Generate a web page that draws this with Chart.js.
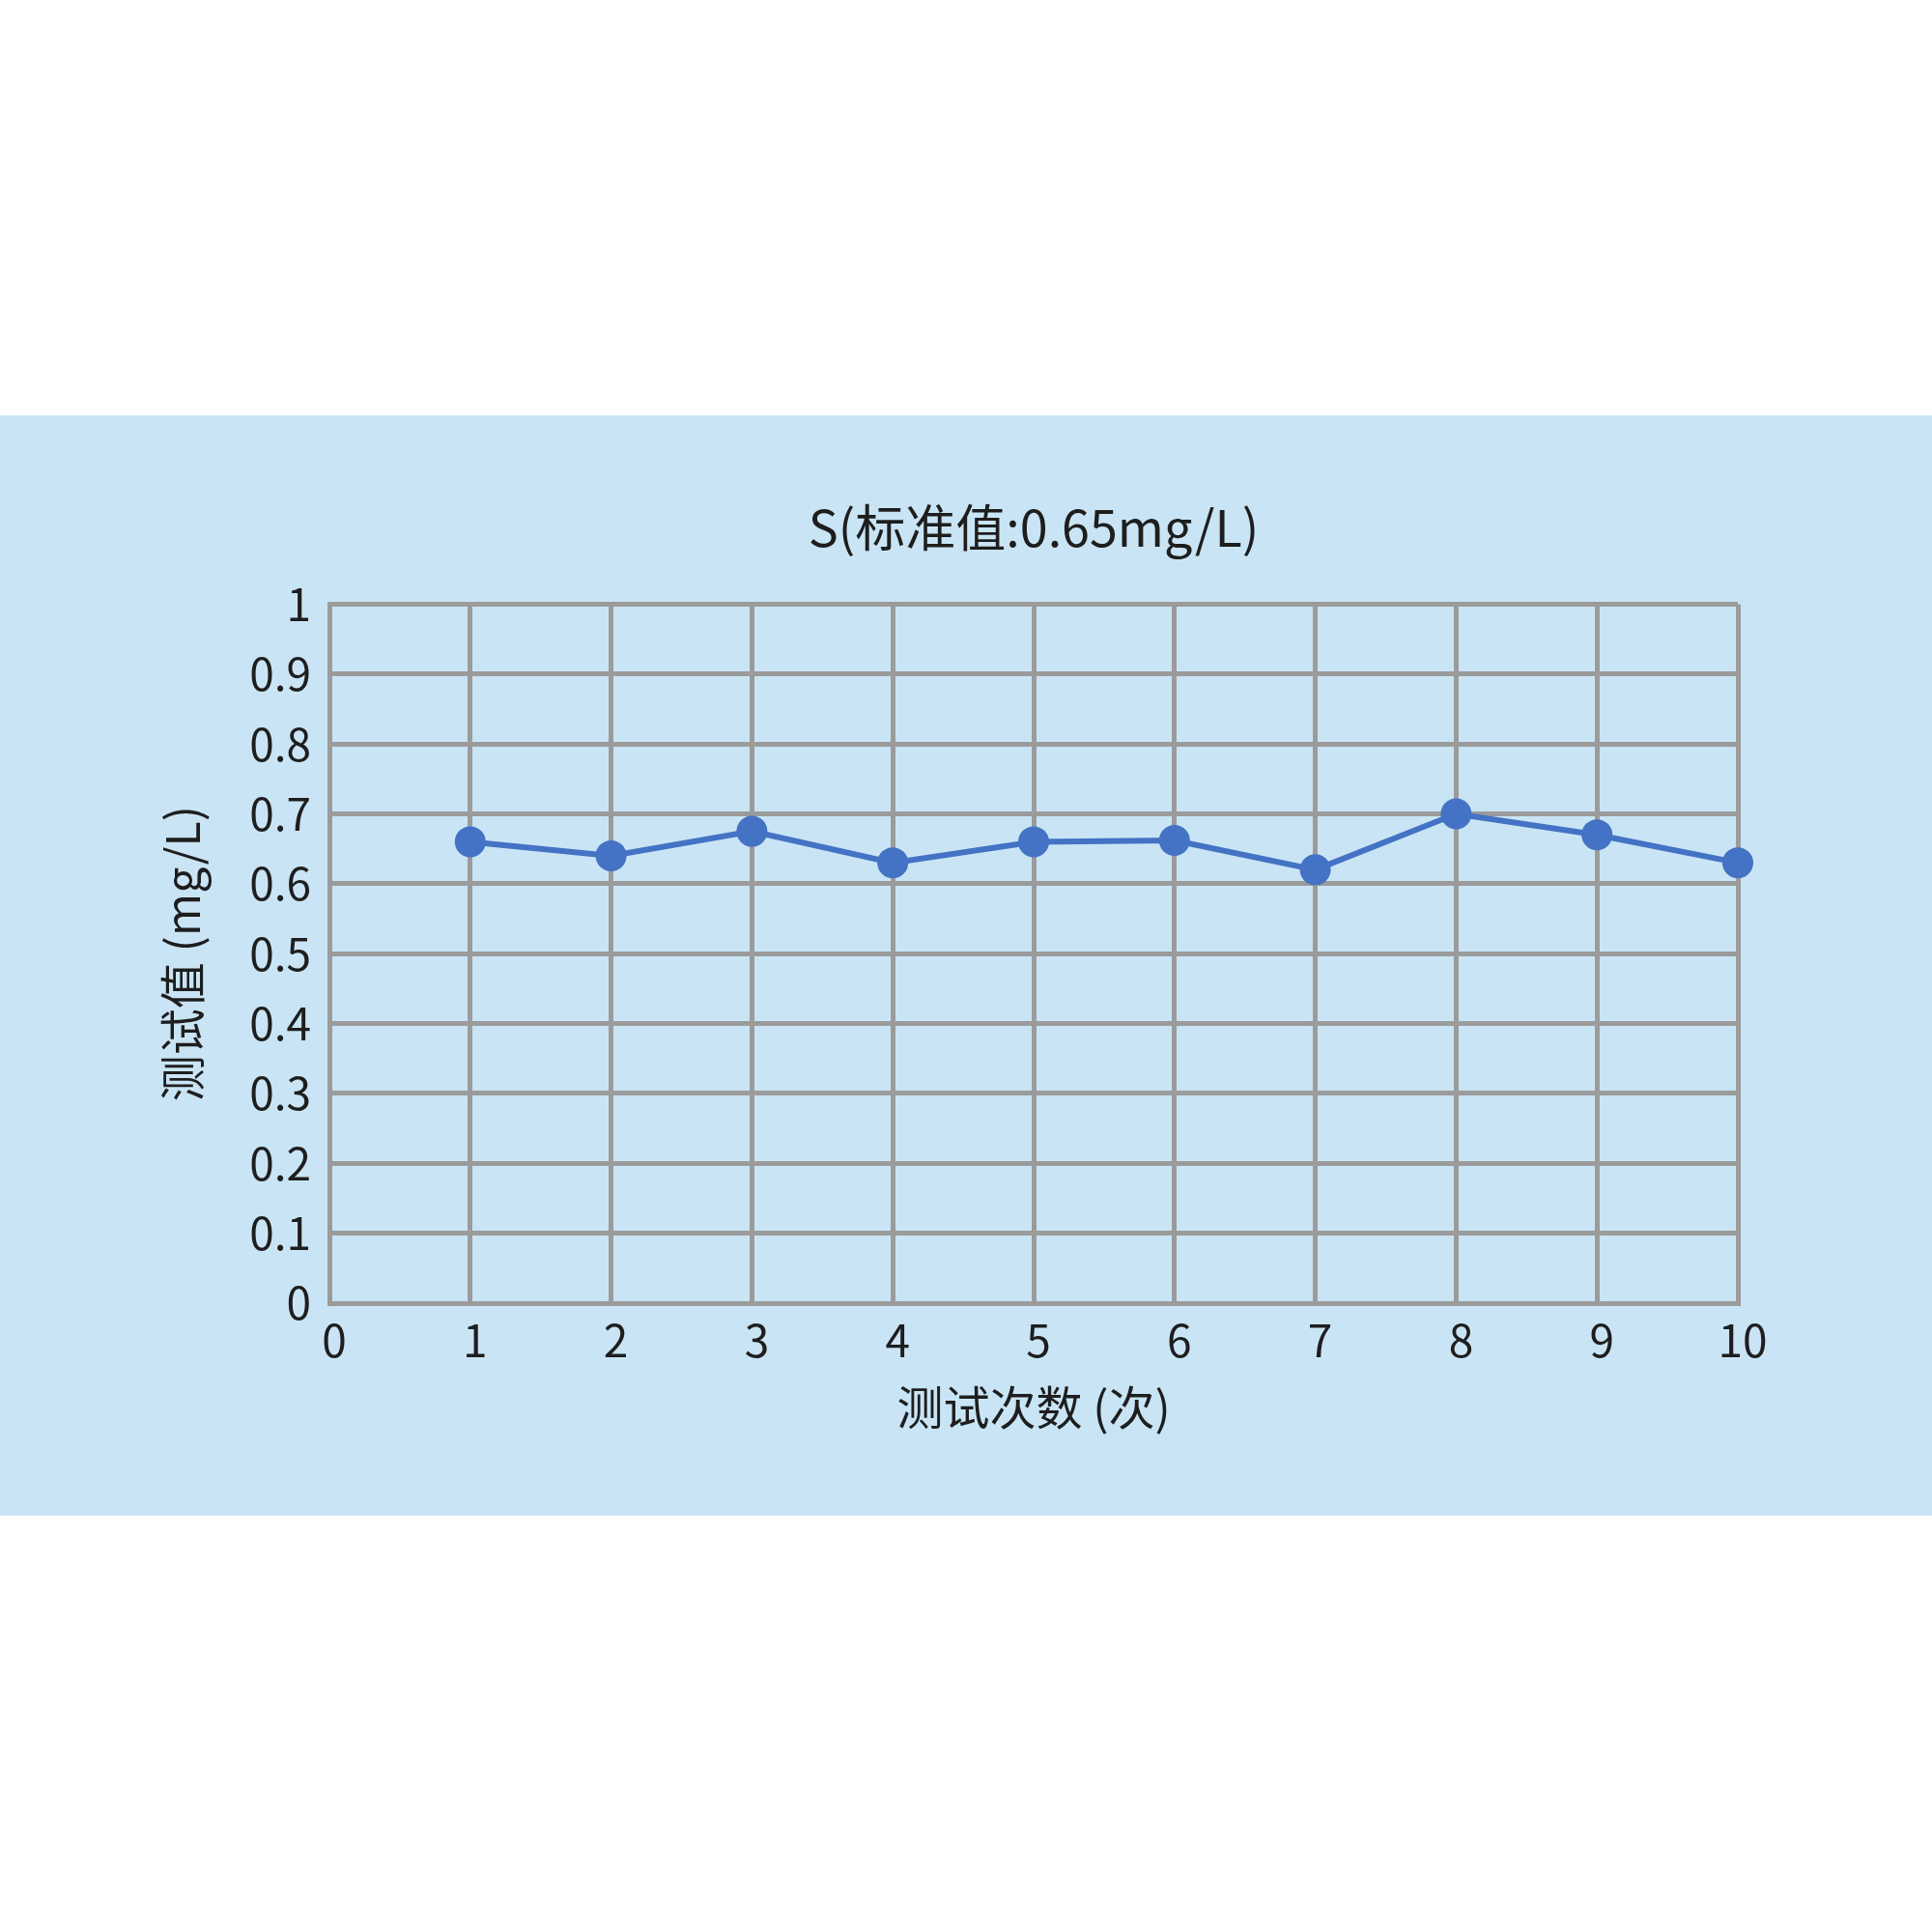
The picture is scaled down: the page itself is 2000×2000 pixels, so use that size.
<!DOCTYPE html>
<html lang="zh">
<head>
  <meta charset="UTF-8">
  <title>S(标准值:0.65mg/L)</title>
  <script src="https://cdn.jsdelivr.net/npm/chart.js"></script>
  <style>
    html, body { margin: 0; padding: 0; background: #ffffff; }
    #page { position: relative; width: 2000px; height: 2000px; background: #ffffff; }
    #panel { position: absolute; left: 0; top: 430px; width: 2000px; height: 1139px; background: #c9e5f5; }
  </style>
</head>
<body>
<div id="page">
  <div id="panel">
    <canvas id="myChart" width="2000" height="1139"></canvas>
  </div>
</div>

<script>
  // test runs (x) and measured values in mg/L (y)
  const runs = [1, 2, 3, 4, 5, 6, 7, 8, 9, 10];
  const measured = [0.66, 0.64, 0.675, 0.63, 0.66, 0.662, 0.62, 0.70, 0.67, 0.63];

  const chartTitle = 'S(标准值:0.65mg/L)';
  const xTitle = '测试次数 (次)';
  const yTitle = '测试值 (mg/L)';
  const xRange = [0, 10];
  const yRange = [0, 1];

  const gridColor = '#9b9b9b';
  const textColor = '#1e1e1e';
  const fontFamily = '"Noto Sans CJK SC", "Noto Sans", sans-serif';

  const ctx = document.getElementById('myChart').getContext('2d');

  const chartData = {
    datasets: [{
      label: '测试值',
      data: runs.map((r, i) => ({ x: r, y: measured[i] })),
      borderColor: '#4472c4',
      backgroundColor: '#4472c4',
      borderWidth: 6,
      pointRadius: 16,
      pointHoverRadius: 16,
      pointBorderWidth: 0,
      showLine: true,
      tension: 0,
      clip: false
    }]
  };

  const config = {
    type: 'scatter',
    data: chartData,
    options: {
      responsive: false,
      animation: false,
      layout: { padding: { left: 0, right: 201, top: 0, bottom: 0 } },
      plugins: {
        legend: { display: false },
        tooltip: { enabled: false },
        title: {
          display: true,
          fullSize: false,
          text: chartTitle,
          color: textColor,
          font: { family: fontFamily, size: 52, weight: 'normal', lineHeight: 1.2 },
          padding: { top: 85, bottom: 48 }
        }
      },
      scales: {
        x: {
          type: 'linear',
          position: 'bottom',
          min: xRange[0],
          max: xRange[1],
          afterFit: s => { s.height = 220; },
          ticks: {
            stepSize: 1,
            padding: 11,
            labelOffset: 5,
            color: textColor,
            font: { family: fontFamily, size: 46 },
            callback: v => String(v)
          },
          grid: { color: gridColor, lineWidth: 5, drawTicks: false },
          border: { color: gridColor, width: 5 },
          title: {
            display: true,
            text: xTitle,
            color: textColor,
            font: { family: fontFamily, size: 48, lineHeight: 1.2 },
            padding: { top: 0, bottom: 83 }
          }
        },
        y: {
          min: yRange[0],
          max: yRange[1],
          afterFit: s => { s.width = 341; },
          ticks: {
            stepSize: 0.1,
            padding: 19,
            color: textColor,
            font: { family: fontFamily, size: 46 },
            callback: v => String(Number(v.toFixed(1)))
          },
          grid: { color: gridColor, lineWidth: 5, drawTicks: false },
          border: { color: gridColor, width: 5 },
          title: {
            display: true,
            text: yTitle,
            color: textColor,
            font: { family: fontFamily, size: 48, lineHeight: 1.2 },
            padding: { top: 160, bottom: 0 }
          }
        }
      }
    }
  };

  const myChart = new Chart(ctx, config);
</script>
</body>
</html>
